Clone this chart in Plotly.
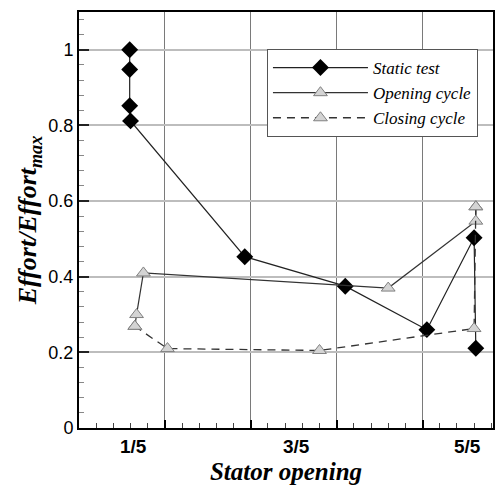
import plotly.graph_objects as go

# ---- data (x in axis units: gridlines at 1,2,3,4) ----
static_x = [0.59, 0.59, 0.59, 0.60, 1.93, 3.10, 4.05, 4.60, 4.62]
static_y = [1.000, 0.948, 0.852, 0.812, 0.453, 0.375, 0.260, 0.503, 0.211]

open_x = [0.65, 0.67, 0.75, 3.60, 4.62, 4.62]
open_y = [0.269, 0.300, 0.410, 0.370, 0.547, 0.585]

close_x = [4.62, 4.60, 2.80, 1.03, 0.65]
close_y = [0.585, 0.263, 0.205, 0.210, 0.269]

tick_pos = [0.63, 2.53, 4.52]
tick_text = ["1/5", "3/5", "5/5"]

fig = go.Figure()
fig.add_trace(go.Scatter(
    x=static_x, y=static_y, mode="lines+markers", name="<i>Static test</i>",
    line=dict(color="#222222", width=1.2),
    marker=dict(symbol="diamond", size=13, color="black")))
fig.add_trace(go.Scatter(
    x=open_x, y=open_y, mode="lines+markers", name="<i>Opening cycle</i>",
    line=dict(color="#333333", width=1.2),
    marker=dict(symbol="triangle-up", size=12, color="#d4d4d4",
                line=dict(color="#808080", width=1))))
fig.add_trace(go.Scatter(
    x=close_x, y=close_y, mode="lines+markers", name="<i>Closing cycle</i>",
    line=dict(color="#333333", width=1.3, dash="8px,6px"),
    marker=dict(symbol="triangle-up", size=12, color="#d4d4d4",
                line=dict(color="#808080", width=1))))

for p, t in zip(tick_pos, tick_text):
    fig.add_annotation(x=p, y=0, xref="x", yref="paper", text="<b>%s</b>" % t,
                       showarrow=False, yanchor="top", yshift=-6,
                       font=dict(family="Liberation Sans", size=19, color="black"))

fig.update_layout(
    width=501, height=485,
    margin=dict(l=79, r=8, t=12, b=57),
    paper_bgcolor="white", plot_bgcolor="white",
    showlegend=True,
    legend=dict(x=0.454, y=0.911, xanchor="left", yanchor="top",
                bgcolor="white", bordercolor="#555555", borderwidth=1,
                font=dict(family="Liberation Serif", size=17, color="black"),
                tracegroupgap=0, itemwidth=95),
    xaxis=dict(range=[0, 4.82], tickvals=[1, 2, 3, 4], showticklabels=False,
               automargin=False,
               ticks="inside", ticklen=8, tickwidth=2, tickcolor="black",
               showgrid=True, gridcolor="#7a7a7a", gridwidth=1,
               showline=True, linecolor="black", linewidth=2, mirror=True,
               zeroline=False,
               minor=dict(dtick=0.2, ticks="inside", ticklen=5, tickcolor="#444444",
                          tickwidth=1, showgrid=False),
               title=dict(text="<b><i>Stator opening</i></b>", standoff=34,
                          font=dict(family="Liberation Serif", size=25, color="black"))),
    yaxis=dict(range=[0, 1.1], tickvals=[0, 0.2, 0.4, 0.6, 0.8, 1.0],
               ticktext=["0", "0.2", "0.4", "0.6", "0.8", "1"],
               automargin=False,
               ticks="inside", ticklen=10, tickwidth=2, tickcolor="#222222",
               showgrid=True, gridcolor="#bdbdbd", gridwidth=2,
               showline=True, linecolor="black", linewidth=2, mirror=True,
               zeroline=False,
               tickfont=dict(family="Liberation Sans", size=18, color="black"),
               minor=dict(dtick=0.04, ticks="inside", ticklen=5, tickcolor="#888888",
                          tickwidth=1, showgrid=False),
               title=dict(text="<b><i>Effort/Effort<sub>max</sub></i></b>", standoff=4,
                          font=dict(family="Liberation Serif", size=26, color="black"))),
)

fig.write_html("out.html")
